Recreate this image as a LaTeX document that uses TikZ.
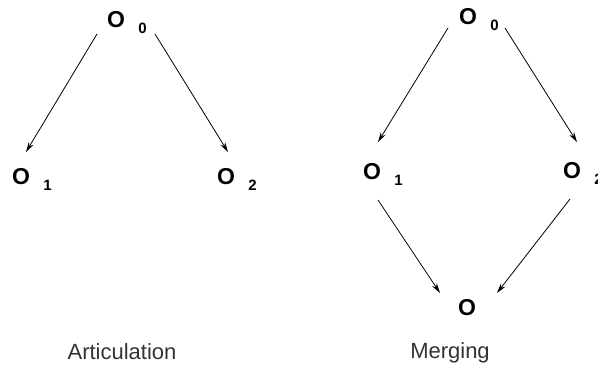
\documentclass[tikz,border=0pt]{standalone}
\usepackage{fontspec}
\setmainfont{Liberation Sans}
\usetikzlibrary{arrows.meta}
\begin{document}
\begin{tikzpicture}[x=1pt,y=-1pt,
  obj/.style={inner sep=0pt,font=\fontsize{23}{23}\selectfont\bfseries},
  sub/.style={inner sep=0pt,anchor=west,xshift=13pt,yshift=-8pt,font=\fontsize{15}{15}\selectfont\bfseries},
  arr/.style={line width=0.8pt,-{Stealth[length=10pt,width=5.5pt]}},
  title/.style={font=\fontsize{22}{22}\selectfont,text=black!80}]
\useasboundingbox (0,0) rectangle (598,369);
% articulation
\node[obj,label={[sub]east:0}] (a0) at (116,20) {O};
\node[obj,label={[sub]east:1}] (a1) at (21,177) {O};
\node[obj,label={[sub]east:2}] (a2) at (226,177) {O};
\draw[arr] ([shift={(-19,14)}]a0.center) -- ([shift={(5,-25)}]a1.center);
\draw[arr] ([shift={(39,14)}]a0.center) -- ([shift={(2,-25)}]a2.center);
\node[title] (lart) at (122,352) {Articulation};
% merging
\node[obj,label={[sub]east:0}] (b0) at (468,17) {O};
\node[obj,label={[sub]east:1}] (b1) at (372,172) {O};
\node[obj,label={[sub]east:2}] (b2) at (572,171) {O};
\node[obj] (b3) at (467,308) {O};
\draw[arr] ([shift={(-20,11)}]b0.center) -- ([shift={(6,-30)}]b1.center);
\draw[arr] ([shift={(37,11)}]b0.center) -- ([shift={(5,-29)}]b2.center);
\draw[arr] ([shift={(6,28)}]b1.center) -- ([shift={(-27,-15)}]b3.center);
\draw[arr] ([shift={(-2,28)}]b2.center) -- ([shift={(30,-15)}]b3.center);
\node[title] (lmer) at (450,353) {Merging};
\end{tikzpicture}
\end{document}
